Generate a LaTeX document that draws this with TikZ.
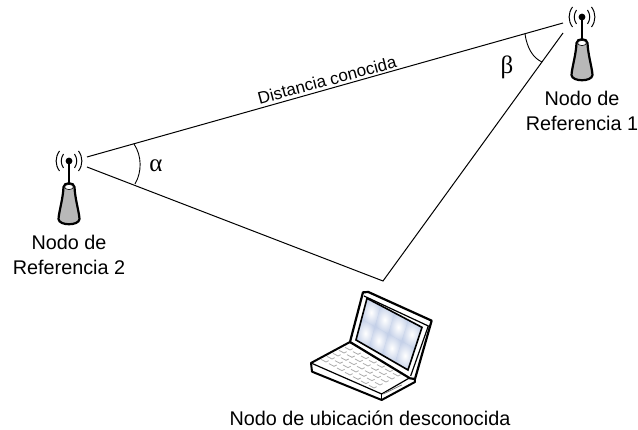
\documentclass[tikz,border=0pt]{standalone}
\usepackage{fontspec}
\setmainfont{Liberation Sans}
\newfontfamily\greekf{Liberation Serif}
\usetikzlibrary{calc}
\definecolor{panecol}{RGB}{196,208,232}
\tikzset{
  lbl/.style={font=\fontsize{19.8}{24.5}\selectfont,align=center,inner sep=0pt},
  dlbl/.style={font=\fontsize{17}{20}\selectfont,inner sep=0pt},
  ln/.style={draw=black,line width=1pt},
  ang/.style={draw=black,line width=0.9pt},
  grk/.style={font=\fontsize{25}{27}\greekf\selectfont,inner sep=0pt},
  key/.style={draw=black!32,line width=0.8pt},
  pane/.style={inner color=white,outer color=panecol}
}
\newcommand{\antenna}[2]{%
  \begin{scope}[shift={(#1,#2)}]
    \draw[line width=2.2pt] (0,0)--(0,24);
    \fill (0,0) circle (3.4);
    \draw[line width=1pt] (-5.5,-7) .. controls (-8.5,-2.5) and (-8.5,2.5) .. (-5.5,7);
    \draw[line width=1pt] (5.5,-7) .. controls (8.5,-2.5) and (8.5,2.5) .. (5.5,7);
    \draw[line width=1pt] (-9.5,-10) .. controls (-14,-4) and (-14,4) .. (-9.5,10);
    \draw[line width=1pt] (9.5,-10) .. controls (14,-4) and (14,4) .. (9.5,10);
    \draw[line width=2.2pt,fill=black!28] (-5.5,26) .. controls (-6,38) and (-10,50) .. (-10.5,58)
      .. controls (-10,65) and (10,65) .. (10.5,58) .. controls (10,50) and (6,38) .. (5.5,26)
      .. controls (5,21) and (-5,21) .. (-5.5,26) -- cycle;
    \draw[line width=0.6pt,fill=white] (0,26) ellipse (4.4 and 2.6);
  \end{scope}}
\begin{document}
\begin{tikzpicture}[x=1pt,y=-1pt]
\useasboundingbox (0,0) rectangle (638,430);
\coordinate (a1) at (87,157);
\coordinate (b1) at (563,23);
\coordinate (a2) at (87,167);
\coordinate (c) at (383,281);
\coordinate (b2) at (563,33);
\draw[ln] (a1)--(b1);
\draw[ln] (a2)--(c)--(b2);
\coordinate (al1) at (134,144);
\coordinate (al2) at (135,184);
\coordinate (be1) at (525,34);
\coordinate (be2) at (542,62);
\draw[ang] (al1) .. controls (142,156) and (142,172) .. (al2);
\draw[ang] (be1) .. controls (527,48) and (533,58) .. (be2);
\node[grk] (alpha) at (156,166) {α};
\node[grk] (beta) at (507,67) {β};
\node[dlbl,rotate=15] (dist) at (327,80) {Distancia conocida};
\antenna{582}{17}
\antenna{69}{161}
\node[lbl] (n1) at (582,111) {Nodo de\\Referencia 1};
\node[lbl] (n2) at (69,255) {Nodo de\\Referencia 2};
\node[lbl] (n3) at (370,418) {Nodo de ubicación desconocida};
\begin{scope}[shift={(300,270)},x=0.3333pt,y=-0.3333pt]
  % base
  \draw[line width=2pt,fill=white,line join=round] (150,216) -- (33,279) -- (36,305) -- (245,390) -- (345,336) -- (345,320) -- cycle;
  \draw[line width=1.2pt] (33,279) -- (245,372) -- (335,320);
  \draw[line width=1.2pt] (245,372)--(245,390);
  \draw[line width=0.8pt,draw=black!50] (250,372)--(305,345);
  % lid
  \draw[line width=2.2pt,fill=white,line join=round] (150,216) -- (189,67) -- (205,66) -- (395,152) -- (345,327) -- (330,325) -- cycle;
  \draw[line width=1.2pt] (192,78) -- (385,168) -- (332,318);
  \coordinate (sa) at (201,85);
  \coordinate (sb) at (366,172);
  \coordinate (sc) at (324,300);
  \coordinate (sd) at (168,210);
  \begin{scope}
    \clip (sa) -- (sb) -- (sc) -- (sd) -- cycle;
    \fill[panecol] (sa) -- (sb) -- (sc) -- (sd) -- cycle;
    \foreach \i in {0,...,3}{\foreach \j in {0,1}{
      \pgfmathsetmacro{\uu}{\i/4}
      \pgfmathsetmacro{\uv}{(\i+1)/4}
      \pgfmathsetmacro{\vu}{\j/2}
      \pgfmathsetmacro{\vv}{(\j+1)/2}
      \path[pane] ($($(sa)!\uu!(sb)$)!\vu!($(sd)!\uu!(sc)$)$) -- ($($(sa)!\uv!(sb)$)!\vu!($(sd)!\uv!(sc)$)$) -- ($($(sa)!\uv!(sb)$)!\vv!($(sd)!\uv!(sc)$)$) -- ($($(sa)!\uu!(sb)$)!\vv!($(sd)!\uu!(sc)$)$) -- cycle;
    }}
  \end{scope}
  \draw[line width=1.6pt] (sa) -- (sb) -- (sc) -- (sd) -- cycle;
  \foreach \r in {0,...,4}{
    \foreach \k in {0,...,6}{
      \draw[key] ($(135,232)+(\k*24,\k*13)+(\r*-18,\r*9)$) -- ++(15,8) -- ++(8,-4);
    }}
\end{scope}
\end{tikzpicture}
\end{document}
